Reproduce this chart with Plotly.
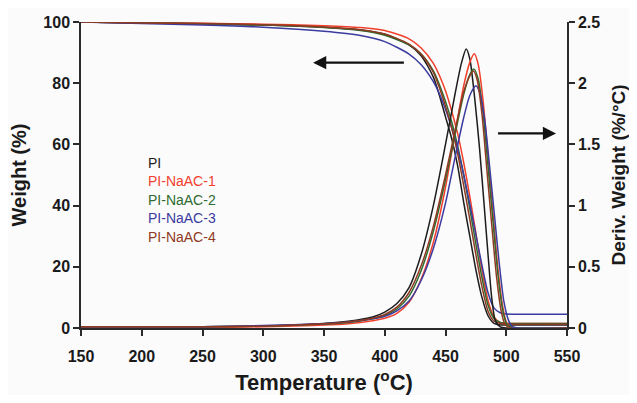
import plotly.graph_objects as go

# ---------------- data ----------------
series_names = ["PI", "PI-NaAC-1", "PI-NaAC-2", "PI-NaAC-3", "PI-NaAC-4"]
series_colors = ["#1c1c1c", "#f0402c", "#2f6a2f", "#3b3ba0", "#8e3a22"]

# TGA (weight %) - shared temperature grid
T_tga = [150, 200, 250, 300, 350, 380, 400, 420, 430, 440, 445, 450, 455, 460,
         465, 470, 475, 480, 485, 490, 495, 500, 505, 510, 530, 550]
w_PI = [100, 99.7, 99.4, 99.0, 98.3, 97.4, 96.0, 92.5, 89.0, 82.0, 76.0, 69.0, 62.0, 53.0,
        41.0, 30.0, 19.0, 10.0, 4.0, 1.5, 1.0, 1.0, 1.0, 1.0, 1.0, 1.0]
w_1 = [100, 99.8, 99.6, 99.3, 98.8, 98.2, 97.2, 94.5, 91.5, 86.5, 82.5, 77.5, 71.0, 63.5,
       54.0, 43.0, 31.0, 19.0, 9.0, 3.5, 1.8, 1.5, 1.5, 1.5, 1.5, 1.5]
w_2 = [100, 99.7, 99.4, 99.0, 98.2, 97.2, 95.7, 92.5, 89.5, 84.0, 79.5, 74.0, 67.5, 59.5,
       50.0, 39.0, 27.5, 16.5, 7.5, 3.0, 1.8, 1.5, 1.5, 1.5, 1.5, 1.5]
w_3 = [100, 99.5, 99.0, 98.3, 97.0, 95.6, 93.6, 89.5, 86.0, 80.5, 76.5, 71.5, 65.5, 58.5,
       50.0, 40.5, 30.5, 20.5, 11.5, 6.5, 5.0, 4.6, 4.5, 4.5, 4.5, 4.5]
w_4 = [100, 99.7, 99.5, 99.1, 98.4, 97.5, 96.1, 92.8, 89.5, 83.5, 78.5, 72.5, 65.5, 57.0,
       46.5, 35.5, 24.0, 13.5, 5.5, 2.2, 1.5, 1.2, 1.2, 1.2, 1.2, 1.2]

# DTG (deriv. weight %/C) - each series with its own temperature points
T_d_PI = [150, 250, 300, 340, 370, 390, 400, 410, 420, 430, 440, 450, 458, 463, 467,
          470, 474, 478, 482, 485, 488, 491, 495, 500, 550]
d_PI = [0.01, 0.01, 0.015, 0.03, 0.055, 0.09, 0.13, 0.20, 0.33, 0.60, 1.00, 1.50, 1.92, 2.16, 2.28,
        2.20, 1.88, 1.47, 0.98, 0.60, 0.25, 0.06, 0.01, 0.0, 0.0]
T_d_1 = [150, 250, 300, 340, 370, 390, 400, 410, 420, 430, 440, 450, 458, 465, 470,
         473.7, 477, 481, 485, 489, 493, 497, 500, 503, 510, 550]
d_1 = [0.005, 0.005, 0.01, 0.02, 0.035, 0.06, 0.08, 0.12, 0.21, 0.40, 0.70, 1.15, 1.60, 1.98, 2.17,
       2.24, 2.15, 1.85, 1.40, 0.95, 0.50, 0.18, 0.05, 0.01, 0.0, 0.0]
T_d_2 = [150, 250, 300, 340, 370, 390, 400, 410, 420, 430, 440, 450, 458, 465, 470,
         473.5, 477, 481, 485, 489, 493, 497, 500, 503, 510, 550]
d_2 = [0.01, 0.01, 0.015, 0.028, 0.045, 0.075, 0.10, 0.155, 0.26, 0.47, 0.79, 1.21, 1.59, 1.91, 2.07,
       2.115, 2.03, 1.75, 1.32, 0.88, 0.45, 0.15, 0.04, 0.01, 0.0, 0.0]
T_d_3 = [150, 250, 300, 340, 370, 390, 400, 410, 420, 430, 440, 450, 458, 465, 470,
         475, 478, 482, 486, 490, 494, 498, 502, 505, 510, 550]
d_3 = [0.01, 0.01, 0.02, 0.032, 0.05, 0.075, 0.095, 0.14, 0.22, 0.39, 0.65, 1.02, 1.40, 1.72, 1.90,
       1.98, 1.93, 1.72, 1.35, 0.95, 0.55, 0.22, 0.06, 0.01, 0.0, 0.0]
T_d_4 = [150, 250, 300, 340, 370, 390, 400, 410, 420, 430, 440, 450, 458, 465, 470,
         473, 476, 480, 484, 488, 492, 496, 499, 503, 550]
d_4 = [0.01, 0.01, 0.015, 0.03, 0.05, 0.08, 0.11, 0.17, 0.29, 0.51, 0.83, 1.25, 1.62, 1.93, 2.06,
       2.10, 2.03, 1.75, 1.30, 0.85, 0.42, 0.13, 0.03, 0.0, 0.0]

x_ticks = [150, 200, 250, 300, 350, 400, 450, 500, 550]
y_ticks = [0, 20, 40, 60, 80, 100]
y2_ticks = [0, 0.5, 1, 1.5, 2, 2.5]
y2_ticktext = ["0", "0.5", "1", "1.5", "2", "2.5"]

tga_sets = [w_PI, w_1, w_2, w_3, w_4]
dtg_sets = [(T_d_PI, d_PI), (T_d_1, d_1), (T_d_2, d_2), (T_d_3, d_3), (T_d_4, d_4)]

# ---------------- figure ----------------
FONT = "Liberation Sans, Arial, sans-serif"
AX = "#2a2a2a"

fig = go.Figure()
for name, col, w in zip(series_names, series_colors, tga_sets):
    fig.add_trace(go.Scatter(x=T_tga, y=w, mode="lines", name=name, yaxis="y",
                             line=dict(color=col, width=1.5, shape="spline", smoothing=0.7),
                             showlegend=False, hoverinfo="skip"))
for name, col, (t, d) in zip(series_names, series_colors, dtg_sets):
    fig.add_trace(go.Scatter(x=t, y=d, mode="lines", name=name + " DTG", yaxis="y2",
                             line=dict(color=col, width=1.5, shape="spline", smoothing=0.7),
                             showlegend=False, hoverinfo="skip"))

axis_common = dict(showline=True, linecolor=AX, linewidth=1.5, ticks="outside",
                   ticklen=6, tickwidth=1.5, tickcolor=AX, showgrid=False, zeroline=False,
                   automargin=False,
                   tickfont=dict(family=FONT, size=16, color="#1a1a1a", weight="bold"))

# the page body adds an 8px offset, so the figure is 629x387 and margins are shifted
fig.update_layout(
    width=629, height=387,
    margin=dict(l=73, r=70, t=14, b=67, autoexpand=False),
    paper_bgcolor="#fbfbfc", plot_bgcolor="#fbfbfc",
    font=dict(family=FONT, color="#1a1a1a"),
    xaxis=dict(range=[150, 550], tickvals=x_ticks, ticklabelstandoff=7, **axis_common,
               title=dict(text="Temperature (<sup>o</sup>C)", standoff=11,
                          font=dict(family=FONT, size=22, color="#1a1a1a", weight="bold"))),
    yaxis=dict(range=[0, 100], tickvals=y_ticks, **axis_common,
               title=dict(text="Weight (%)", standoff=12,
                          font=dict(family=FONT, size=20, color="#1a1a1a", weight="bold"))),
    yaxis2=dict(range=[0, 2.5], tickvals=y2_ticks, ticktext=y2_ticktext,
                overlaying="y", side="right", **axis_common,
                title=dict(text="Deriv. Weight (%/°C)", standoff=12,
                           font=dict(family=FONT, size=19, color="#1a1a1a", weight="bold"))),
)

# direction arrows
fig.add_annotation(x=341, y=86.7, ax=417, ay=86.7, xref="x", yref="y", axref="x", ayref="y",
                   text="", showarrow=True, arrowhead=2, arrowsize=1.2, arrowwidth=2.2,
                   arrowcolor="#111111")
fig.add_annotation(x=541, y=1.59, ax=492, ay=1.59, xref="x", yref="y2", axref="x", ayref="y2",
                   text="", showarrow=True, arrowhead=2, arrowsize=1.2, arrowwidth=2.2,
                   arrowcolor="#111111")

# in-plot legend (text only)
for i, (name, col) in enumerate(zip(series_names, series_colors)):
    fig.add_annotation(x=203.5, y=54.0 - i * 6.05, xref="x", yref="y", text=name,
                       showarrow=False, xanchor="left", yanchor="middle",
                       font=dict(family=FONT, size=14, color=col))

fig.write_html("out.html")
